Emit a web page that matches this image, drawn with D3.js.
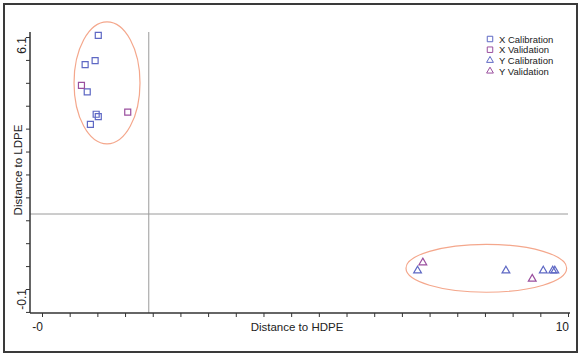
<!doctype html>
<html lang="en">
<head>
<meta charset="UTF-8">
<title>Distance plot</title>
<script src="https://cdn.jsdelivr.net/npm/d3@7"></script>
<style>
  body { margin: 0; background: #fff; }
  text { font-family: "Liberation Sans", Arial, sans-serif; }
</style>
</head>
<body>
<script>
  var width = 582, height = 358;

  // data
  var seriesNames = ["X Calibration", "X Validation", "Y Calibration", "Y Validation"];
  var xCalX = [1.07, 1.01, 0.82, 0.86, 1.03, 1.07, 0.92];
  var xCalY = [6.14, 5.52, 5.42, 4.75, 4.20, 4.14, 3.95];
  var xValX = [0.75, 1.63];
  var xValY = [4.91, 4.25];
  var yCalX = [7.14, 8.82, 9.53, 9.71, 9.75];
  var yCalY = [0.35, 0.35, 0.35, 0.35, 0.35];
  var yValX = [7.24, 9.32];
  var yValY = [0.55, 0.15];
  var xTickLabels = ["-0", "10"];
  var yTickLabels = ["-0.1", "6.1"];
  var refX = 2.03, refY = 1.745;   // cross lines
  // group ellipses: cx, cy, rx, ry (data units)
  var groups = [[1.236, 4.97, 0.627, 1.50], [8.447, 0.41, 1.527, 0.59]];

  var colors = ["#5e68c4", "#9a4f9e", "#5e68c4", "#9a4f9e"];

  var svg = d3.select("body").append("svg")
      .attr("width", width).attr("height", height);

  // outer frame
  svg.append("rect").attr("x", 4).attr("y", 4)
      .attr("width", 573).attr("height", 348)
      .attr("fill", "none").attr("stroke", "#3a3a3a").attr("stroke-width", 2);

  var x = d3.scaleLinear().domain([0, 10]).range([42, 568]);
  var y = d3.scaleLinear().domain([-0.1, 6.1]).range([289, 37]);

  var x0 = x.invert(30), x1 = x.invert(570);
  var y0 = y.invert(313), y1 = y.invert(32);

  // reference lines
  svg.append("line").attr("x1", x(refX)).attr("x2", x(refX))
      .attr("y1", y(y1)).attr("y2", y(y0))
      .attr("stroke", "#9a9a9a").attr("stroke-width", 1);
  svg.append("line").attr("x1", x(x0)).attr("x2", x(10))
      .attr("y1", y(refY)).attr("y2", y(refY))
      .attr("stroke", "#9a9a9a").attr("stroke-width", 1);

  // axes
  var xTicks = d3.range(20).map(function(k) { return k * 10 / 19; });
  var yTicks = d3.range(13).map(function(k) { return 6.1 - k * 6.2 / 11; });

  var xAxis = d3.axisBottom(x).tickValues(xTicks).tickSize(4).tickFormat("");
  var yAxis = d3.axisLeft(y).tickValues(yTicks).tickSize(4).tickFormat("");

  var gx = svg.append("g").attr("transform", "translate(0," + y(y0) + ")").call(xAxis);
  gx.select(".domain").attr("d", "M" + x(x0) + ",0H" + x(x1));
  var gy = svg.append("g").attr("transform", "translate(" + x(x0) + ",0)").call(yAxis);
  gy.select(".domain").attr("d", "M0," + y(y1) + "V" + y(y0));
  svg.selectAll(".domain").attr("stroke", "#333").attr("stroke-width", 1.5);
  svg.selectAll(".tick line").attr("stroke", "#333");

  gx.selectAll(".tick line").attr("y2", 3);
  gy.selectAll(".tick line").attr("x2", 3).attr("x1", 0);
  gx.selectAll(".tick line").attr("y1", 0);
  // ticks point inward-out like original: small marks below / left of axis
  gx.selectAll(".tick line").attr("y1", 0).attr("y2", 4);
  gy.selectAll(".tick line").attr("x1", 0).attr("x2", -4);

  // tick labels (only min / max)
  svg.selectAll(".xlab").data([0, 10]).enter().append("text")
      .attr("x", function(d) { return x(d) + 1; })
      .attr("y", y(y0) + 18)
      .attr("text-anchor", "end")
      .attr("font-size", 12).attr("fill", "#222")
      .text(function(d, i) { return xTickLabels[i]; });

  svg.selectAll(".ylab").data([-0.1, 6.1]).enter().append("text")
      .attr("transform", function(d) { return "translate(26," + y(d) + ") rotate(-90)"; })
      .attr("text-anchor", "end")
      .attr("font-size", 12).attr("fill", "#222")
      .text(function(d, i) { return yTickLabels[i]; });

  svg.append("text").attr("x", 297).attr("y", 331)
      .attr("text-anchor", "middle").attr("font-size", 11.5).attr("fill", "#222")
      .text("Distance to HDPE");
  svg.append("text").attr("transform", "translate(22,170) rotate(-90)")
      .attr("text-anchor", "middle").attr("font-size", 11.5).attr("fill", "#222")
      .text("Distance to LDPE");

  // group ellipses
  svg.selectAll(".grp").data(groups).enter().append("ellipse")
      .attr("cx", function(d) { return x(d[0]); })
      .attr("cy", function(d) { return y(d[1]); })
      .attr("rx", function(d) { return x(d[2]) - x(0); })
      .attr("ry", function(d) { return y(0) - y(d[3]); })
      .attr("fill", "none").attr("stroke", "#f4a78c").attr("stroke-width", 1.2);

  // points
  var sq = d3.symbol().type(d3.symbolSquare).size(36);
  var tri = d3.symbol().type(d3.symbolTriangle).size(26);
  var sets = [
    { xs: xCalX, ys: xCalY, sym: sq, c: colors[0] },
    { xs: xValX, ys: xValY, sym: sq, c: colors[1] },
    { xs: yCalX, ys: yCalY, sym: tri, c: colors[2] },
    { xs: yValX, ys: yValY, sym: tri, c: colors[3] }
  ];
  sets.forEach(function(s) {
    svg.append("g").selectAll("path").data(s.xs).enter().append("path")
        .attr("transform", function(d, i) { return "translate(" + x(d) + "," + y(s.ys[i]) + ")"; })
        .attr("d", s.sym)
        .attr("fill", "none").attr("stroke", s.c).attr("stroke-width", 1.2);
  });

  // legend
  var leg = svg.append("g").attr("transform", "translate(490,39)");
  var row = leg.selectAll("g").data(seriesNames).enter().append("g")
      .attr("transform", function(d, i) { return "translate(0," + i * 10.7 + ")"; });
  row.append("path")
      .attr("d", function(d, i) { return i < 2 ? d3.symbol().type(d3.symbolSquare).size(30)() : d3.symbol().type(d3.symbolTriangle).size(20)(); })
      .attr("fill", "none").attr("stroke", function(d, i) { return colors[i]; }).attr("stroke-width", 1);
  row.append("text").attr("x", 9).attr("y", 3.5)
      .attr("font-size", 9.5).attr("fill", "#222")
      .text(function(d) { return d; });
</script>
</body>
</html>
